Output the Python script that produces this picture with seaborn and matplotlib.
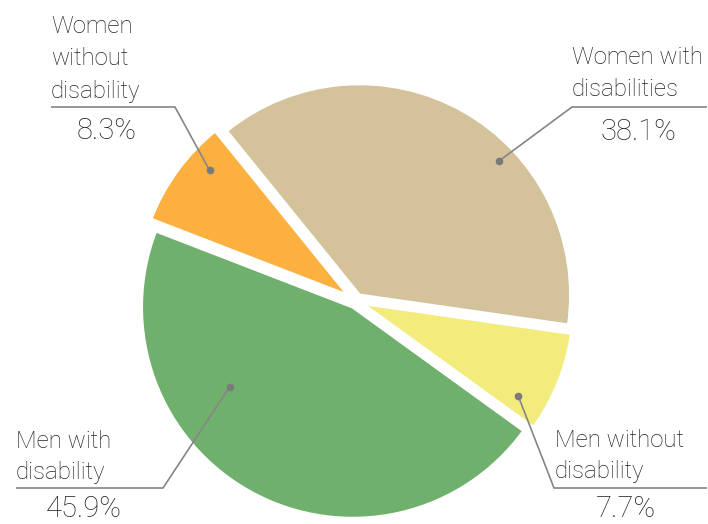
import numpy as np
import matplotlib
matplotlib.use("Agg")
import matplotlib.pyplot as plt
import seaborn as sns

# Share of respondents by sex and disability status
groups = ["Women with\ndisabilities", "Men without\ndisability", "Men with\ndisability", "Women\nwithout\ndisability"]
shares = [38.1, 7.7, 45.9, 8.3]
pct_labels = ["38.1%", "7.7%", "45.9%", "8.3%"]
colors = ["#D4C29B", "#F3EC7D", "#6FB06D", "#FBB040"]

sns.set_theme(style="white")
plt.rcParams["font.family"] = ["Roboto", "DejaVu Sans"]

W, H = 708, 524
fig = plt.figure(figsize=(W / 100, H / 100), dpi=100)
ax = fig.add_axes([0, 0, 1, 1])

def py(y):
    # pixel row (from top) to axis y (from bottom)
    return H - y

R = 211
center = (356, py(301))
# explode is in data units (pixels here)
wedges, _ = ax.pie(shares, colors=sns.color_palette(colors), startangle=129,
                   counterclock=False, radius=R, center=center, frame=True,
                   explode=[7, 7, 7, 10],
                   wedgeprops=dict(edgecolor="white", linewidth=2))
ax.set_xlim(0, W)
ax.set_ylim(0, H)
ax.set_aspect("equal")
ax.axis("off")

# Leader-line anchor inside each wedge: (fraction along arc, fraction of radius)
anchors = [(0.379, 0.917), (0.19, 0.857), (0.327, 0.694), (0.30, 0.883)]
# Label layout: text left x, line baselines, underline (x0, x1, y), elbow x, pct centre x, pct baseline
layout = [
    dict(tx=572, bl=[64, 96], ul=(572, 707, 107), ex=572, px=638, pb=140),
    dict(tx=555, bl=[447, 478], ul=(554, 707, 488), ex=554, px=626, pb=517),
    dict(tx=16, bl=[448, 479], ul=(16, 163, 488), ex=163, px=84, pb=517),
    dict(tx=51, bl=[33, 65, 98], ul=(51, 175, 107), ex=175, px=107, pb=139),
]

line_col = "#858585"
text_col = "#222222"
for w, (fa, fr), lay, name, pct in zip(wedges, anchors, layout, groups, pct_labels):
    ang = np.deg2rad(w.theta1 + fa * (w.theta2 - w.theta1))
    cx, cy = w.center
    dx, dy = cx + fr * w.r * np.cos(ang), cy + fr * w.r * np.sin(ang)
    x0, x1, uy = lay["ul"]
    ax.plot([x0, x1], [py(uy), py(uy)], color=line_col, lw=1.2, solid_capstyle="butt")
    ax.plot([lay["ex"], dx], [py(uy), dy], color=line_col, lw=1.2)
    ax.plot([dx], [dy], "o", color="#7a7a7a", ms=5.5, mec="none")
    for line, b in zip(name.split("\n"), lay["bl"]):
        ax.text(lay["tx"], py(b), line, ha="left", va="baseline",
                fontsize=17.3, fontweight="light", color=text_col)
    ax.text(lay["px"], py(lay["pb"]), pct, ha="center", va="baseline",
            fontsize=21, fontweight="light", color=text_col)

fig.savefig("out.png", dpi=100, facecolor="white")
